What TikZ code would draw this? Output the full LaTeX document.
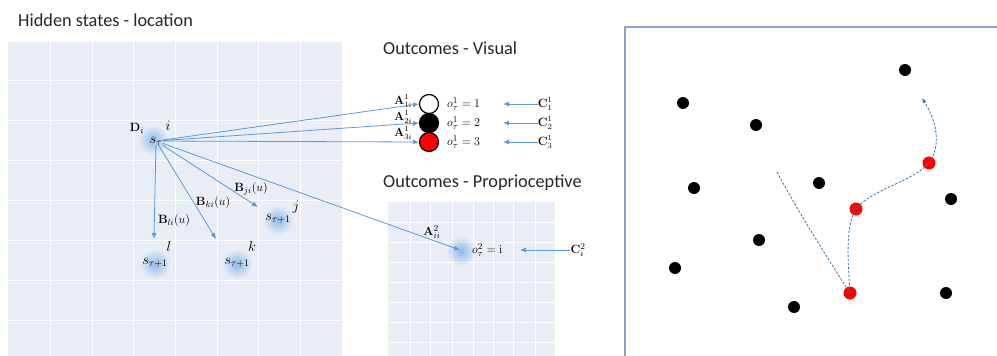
\documentclass[tikz,border=0pt]{standalone}
\usepackage[no-math]{fontspec}
\setmainfont{Carlito}
\usetikzlibrary{arrows.meta,fadings}
\definecolor{gridbg}{HTML}{E9EDF5}
\definecolor{arr}{HTML}{5B9BD5}
\definecolor{glowc}{HTML}{8FBCEA}
\definecolor{framec}{HTML}{86A3CC}
\definecolor{dashc}{HTML}{41719C}
\tikzfading[name=glowfade, inner color=transparent!0, outer color=transparent!100]
\begin{document}
\begin{tikzpicture}[x=1pt,y=-1pt,
 title/.style={font=\fontsize{18.3}{20}\selectfont, anchor=west, inner sep=0, text=black!85},
 lbl/.style={font=\fontsize{14}{16}\selectfont, inner sep=0pt},
 olbl/.style={font=\fontsize{13}{15}\selectfont, inner sep=0pt, anchor=west},
 slbl/.style={font=\fontsize{12.5}{14}\selectfont, inner sep=0pt},
 clbl/.style={font=\fontsize{12}{14}\selectfont, inner sep=0pt},
 conn/.style={draw=arr, line width=0.8pt, -{Latex[length=6pt,width=5pt]}},
 glow/.style={circle, minimum size=30pt, inner sep=0, fill=glowc, path fading=glowfade},
 dotb/.style={circle, fill=black, minimum size=12pt, inner sep=0},
 dotr/.style={circle, fill=red, minimum size=13pt, inner sep=0},
 vis/.style={circle, draw=black, line width=1.2pt, minimum size=19pt, inner sep=0},
 gridline/.style={white, line width=1pt},
 walk/.style={dashc, dash pattern=on 2.5pt off 1.5pt, line width=0.8pt},
]
\useasboundingbox (0,0) rectangle (997,356);
% ---------- left grid ----------
\fill[gridbg] (8,42) rectangle (342,356);
\foreach \x in {50,92,133,175,217,258,300} \draw[gridline] (\x,42) -- (\x,356);
\foreach \y in {80,120,160,200,240,280,320} \draw[gridline] (8,\y) -- (342,\y);
% ---------- proprioceptive grid ----------
\fill[gridbg] (388,202) rectangle (555,356);
\foreach \x in {410,430,452,473,493,513,535} \draw[gridline, line width=0.7pt] (\x,202) -- (\x,356);
\foreach \y in {222,242,262,282,302,322,342} \draw[gridline, line width=0.7pt] (388,\y) -- (555,\y);
% ---------- titles ----------
\node[title] (t1) at (18,20) {Hidden states - location};
\node[title] (t2) at (383,48) {Outcomes - Visual};
\node[title] (t3) at (383,183) {Outcomes - Proprioceptive};
% ---------- glows ----------
\node[glow] (g0) at (153,140) {};
\node[glow] (g1) at (155,264) {};
\node[glow] (g2) at (237,264) {};
\node[glow] (g3) at (278,220) {};
\node[glow] (g4) at (461,251) {};
% ---------- hidden state labels ----------
\node[lbl] (s0) at (156,141) {$s_\tau$};
\node[slbl] (D) at (137,128) {$\mathbf{D}_i$};
\node[lbl] (ilab) at (168,126) {$i$};
\node[lbl] (s1) at (155,263) {$s_{\tau+1}$};
\node[lbl] (s2) at (237,263) {$s_{\tau+1}$};
\node[lbl] (s3) at (278,219) {$s_{\tau+1}$};
\node[lbl] (llab) at (169,246) {$l$};
\node[lbl] (klab) at (252,246) {$k$};
\node[lbl] (jlab) at (296,207) {$j$};
\node[slbl] (B1) at (174,220) {$\mathbf{B}_{li}(u)$};
\node[slbl] (B2) at (213,202) {$\mathbf{B}_{ki}(u)$};
\node[slbl] (B3) at (251,189) {$\mathbf{B}_{ji}(u)$};
\coordinate (e1) at (154,239);
\coordinate (e2) at (216,239);
\coordinate (e3) at (258,207);
\coordinate (e4) at (460,250);
% ---------- visual outcomes ----------
\node[vis, fill=white] (v1) at (429,104) {};
\node[vis, fill=black] (v2) at (429,123) {};
\node[vis, fill=red] (v3) at (429,142) {};
\node[clbl] (A1) at (403,101) {$\mathbf{A}^1_{1i}$};
\node[clbl] (A2) at (403,117) {$\mathbf{A}^1_{2i}$};
\node[clbl] (A3) at (403,133) {$\mathbf{A}^1_{3i}$};
\node[olbl] (o1) at (447,104) {$o^1_\tau = 1$};
\node[olbl] (o2) at (447,123) {$o^1_\tau = 2$};
\node[olbl] (o3) at (447,142) {$o^1_\tau = 3$};
\node[clbl] (C1) at (545,104) {$\mathbf{C}^1_1$};
\node[clbl] (C2) at (545,123) {$\mathbf{C}^1_2$};
\node[clbl] (C3) at (545,142) {$\mathbf{C}^1_3$};
\coordinate (c1) at (503,104);
\coordinate (c2) at (503,123);
\coordinate (c3) at (503,142);
% ---------- proprioceptive outcome ----------
\node[slbl] (A4) at (432,232) {$\mathbf{A}^2_{ii}$};
\node[olbl] (o4) at (472,250) {$o^2_\tau = \mathrm{i}$};
\node[slbl] (C4) at (578,250) {$\mathbf{C}^2_i$};
\coordinate (c4) at (520,250);
% ---------- connectors ----------
\draw[conn] (s0) -- (e1);
\draw[conn] (s0) -- (e2);
\draw[conn] (s0) -- (e3);
\draw[conn] (s0) -- (e4);
\draw[conn] (s0) -- (v1.west);
\draw[conn] (s0) -- (v2.west);
\draw[conn] (s0) -- (v3.west);
\draw[conn] (C1) -- (c1);
\draw[conn] (C2) -- (c2);
\draw[conn] (C3) -- (c3);
\draw[conn] (C4) -- (c4);
% ---------- right panel ----------
\draw[framec, line width=1.5pt] (625,356) -- (625,27) -- (997,27);
\node[dotb] (d1) at (905,70) {};
\node[dotb] (d2) at (683,103) {};
\node[dotb] (d3) at (756,125) {};
\node[dotb] (d4) at (694,188) {};
\node[dotb] (d5) at (819,183) {};
\node[dotb] (d6) at (951,199) {};
\node[dotb] (d7) at (759,240) {};
\node[dotb] (d8) at (675,268) {};
\node[dotb] (d9) at (794,307) {};
\node[dotb] (d10) at (946,293) {};
\node[dotr] (r1) at (929,163) {};
\node[dotr] (r2) at (856,209) {};
\node[dotr] (r3) at (850,293) {};
\coordinate (ps) at (777,172);
\coordinate (pe) at (922,98);
\draw[walk] (ps) .. controls (800,215) and (830,262) .. (r3.center);
\draw[walk, -{Latex[length=5pt,width=4pt]}]
  (r3.center) .. controls (848,262) and (845,226) .. (r2.center)
  .. controls (870,190) and (912,182) .. (r1.center)
  .. controls (942,145) and (936,120) .. (pe);
\end{tikzpicture}
\end{document}
